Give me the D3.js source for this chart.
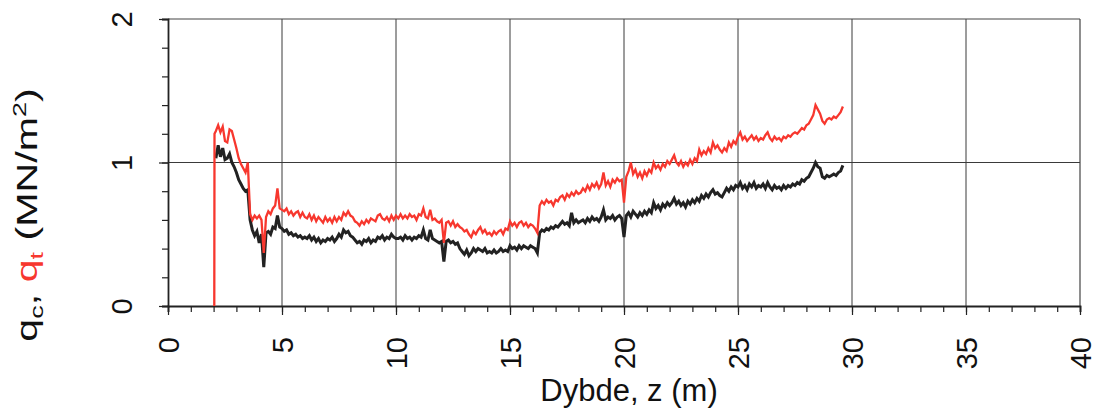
<!DOCTYPE html>
<html>
<head>
<meta charset="utf-8">
<script src="https://cdn.jsdelivr.net/npm/d3@7"></script>
<style>
  body { margin: 0; background: #fff; }
  svg { display: block; font-family: "Liberation Sans", Arial, sans-serif; }
</style>
</head>
<body>
<svg id="chart" width="1098" height="417"></svg>
<script>
// ---------------- data ----------------
const xTicks = [0, 5, 10, 15, 20, 25, 30, 35, 40];
const yTicks = [0, 1, 2];
const xMinorTicks = [0,1,2,3,4,5,6,7,8,9,10,11,12,13,14,15,16,17,18,19,20,21,22,23,24,25,26,27,28,29,30,31,32,33,34,35,36,37,38,39,40];
const yMinorTicks = [0, 0.2, 0.4, 0.6, 0.8, 1, 1.2, 1.4, 1.6, 1.8, 2];

// depth, z (m)
const depth = [2.03, 2.04,
  2.1,2.2,2.3,2.4,2.5,2.6,2.7,2.8,2.9,3.0,
  3.1,3.2,3.3,3.4,3.5,3.6,3.7,3.8,3.9,4.0,
  4.1,4.2,4.3,4.4,4.5,4.6,4.7,4.8,4.9,5.0,
  5.1,5.2,5.3,5.4,5.5,5.6,5.7,5.8,5.9,6.0,
  6.1,6.2,6.3,6.4,6.5,6.6,6.7,6.8,6.9,7.0,
  7.1,7.2,7.3,7.4,7.5,7.6,7.7,7.8,7.9,8.0,
  8.1,8.2,8.3,8.4,8.5,8.6,8.7,8.8,8.9,9.0,
  9.1,9.2,9.3,9.4,9.5,9.6,9.7,9.8,9.9,10.0,
  10.1,10.2,10.3,10.4,10.5,10.6,10.7,10.8,10.9,11.0,
  11.1,11.2,11.3,11.4,11.5,11.6,11.7,11.8,11.9,12.0,
  12.1,12.2,12.3,12.4,12.5,12.6,12.7,12.8,12.9,13.0,
  13.1,13.2,13.3,13.4,13.5,13.6,13.7,13.8,13.9,14.0,
  14.1,14.2,14.3,14.4,14.5,14.6,14.7,14.8,14.9,15.0,
  15.1,15.2,15.3,15.4,15.5,15.6,15.7,15.8,15.9,16.0,
  16.1,16.2,16.3,16.4,16.5,16.6,16.7,16.8,16.9,17.0,
  17.1,17.2,17.3,17.4,17.5,17.6,17.7,17.8,17.9,18.0,
  18.1,18.2,18.3,18.4,18.5,18.6,18.7,18.8,18.9,19.0,
  19.1,19.2,19.3,19.4,19.5,19.6,19.7,19.8,19.9,20.0,
  20.1,20.2,20.3,20.4,20.5,20.6,20.7,20.8,20.9,21.0,
  21.1,21.2,21.3,21.4,21.5,21.6,21.7,21.8,21.9,22.0,
  22.1,22.2,22.3,22.4,22.5,22.6,22.7,22.8,22.9,23.0,
  23.1,23.2,23.3,23.4,23.5,23.6,23.7,23.8,23.9,24.0,
  24.1,24.2,24.3,24.4,24.5,24.6,24.7,24.8,24.9,25.0,
  25.1,25.2,25.3,25.4,25.5,25.6,25.7,25.8,25.9,26.0,
  26.1,26.2,26.3,26.4,26.5,26.6,26.7,26.8,26.9,27.0,
  27.1,27.2,27.3,27.4,27.5,27.6,27.7,27.8,27.9,28.0,
  28.1,28.2,28.3,28.4,28.5,28.6,28.7,28.8,28.9,29.0,
  29.1,29.2,29.3,29.4,29.5,29.6];

// corrected cone resistance q_t (MN/m2) - red
const qt = [0, 1.20,
  1.22,1.26,1.21,1.25,1.15,1.14,1.23,1.22,1.16,1.10,
  1.03,0.99,0.96,0.93,1.00,0.64,0.60,0.63,0.61,0.63,
  0.60,0.37,0.62,0.66,0.64,0.68,0.70,0.82,0.68,0.67,
  0.66,0.68,0.64,0.66,0.63,0.65,0.66,0.62,0.65,0.62,
  0.61,0.64,0.60,0.63,0.59,0.62,0.60,0.58,0.62,0.59,
  0.61,0.58,0.62,0.59,0.62,0.60,0.65,0.63,0.66,0.63,
  0.62,0.59,0.58,0.56,0.59,0.57,0.60,0.58,0.61,0.60,
  0.59,0.63,0.64,0.61,0.60,0.62,0.59,0.63,0.60,0.63,
  0.61,0.64,0.61,0.63,0.61,0.64,0.62,0.63,0.60,0.64,
  0.63,0.68,0.62,0.61,0.67,0.60,0.61,0.59,0.58,0.60,
  0.44,0.58,0.59,0.56,0.59,0.55,0.57,0.55,0.54,0.52,
  0.53,0.50,0.48,0.52,0.50,0.53,0.55,0.51,0.53,0.50,
  0.51,0.49,0.52,0.50,0.52,0.53,0.50,0.54,0.53,0.59,
  0.56,0.58,0.55,0.58,0.59,0.56,0.58,0.55,0.57,0.56,
  0.54,0.51,0.70,0.73,0.71,0.74,0.72,0.73,0.70,0.74,
  0.73,0.76,0.77,0.74,0.78,0.76,0.79,0.77,0.80,0.78,
  0.79,0.82,0.80,0.84,0.81,0.85,0.83,0.86,0.82,0.85,
  0.93,0.84,0.87,0.83,0.88,0.86,0.89,0.87,0.88,0.72,
  0.90,0.94,1.00,0.92,0.95,0.90,0.93,0.89,0.94,0.91,
  0.95,0.93,1.00,0.96,0.98,0.95,0.99,0.97,1.01,0.99,
  1.02,1.05,1.00,0.98,1.01,0.97,1.00,0.98,1.02,0.99,
  1.03,1.01,1.09,1.05,1.08,1.06,1.10,1.07,1.14,1.10,
  1.12,1.09,1.07,1.10,1.08,1.14,1.11,1.15,1.13,1.18,
  1.21,1.16,1.18,1.15,1.17,1.19,1.16,1.18,1.15,1.17,
  1.16,1.19,1.21,1.17,1.15,1.18,1.16,1.17,1.15,1.18,
  1.17,1.19,1.18,1.20,1.21,1.20,1.22,1.24,1.23,1.26,
  1.27,1.30,1.33,1.40,1.37,1.34,1.29,1.27,1.30,1.31,
  1.30,1.32,1.31,1.33,1.35,1.39];

// measured cone resistance q_c (MN/m2) - black
const qc = [null, null,
  1.03,1.12,1.04,1.10,1.02,1.03,1.06,1.00,0.97,0.93,
  0.88,0.85,0.82,0.80,0.81,0.60,0.53,0.49,0.52,0.44,
  0.50,0.27,0.51,0.52,0.50,0.55,0.54,0.63,0.55,0.54,
  0.52,0.53,0.50,0.51,0.49,0.50,0.48,0.49,0.47,0.48,
  0.47,0.49,0.46,0.48,0.45,0.47,0.44,0.46,0.45,0.47,
  0.46,0.48,0.45,0.47,0.50,0.48,0.53,0.51,0.52,0.49,
  0.48,0.46,0.44,0.45,0.43,0.46,0.45,0.47,0.44,0.46,
  0.45,0.48,0.47,0.49,0.46,0.48,0.47,0.50,0.48,0.47,
  0.47,0.48,0.46,0.49,0.47,0.48,0.46,0.48,0.47,0.49,
  0.48,0.53,0.47,0.46,0.53,0.47,0.46,0.45,0.44,0.45,
  0.31,0.45,0.46,0.44,0.45,0.43,0.44,0.40,0.38,0.36,
  0.39,0.35,0.37,0.40,0.38,0.40,0.39,0.38,0.40,0.37,
  0.38,0.37,0.39,0.37,0.38,0.40,0.38,0.39,0.38,0.42,
  0.40,0.41,0.39,0.42,0.40,0.42,0.41,0.40,0.42,0.41,
  0.40,0.37,0.51,0.53,0.52,0.54,0.53,0.55,0.54,0.56,
  0.55,0.57,0.59,0.57,0.58,0.56,0.65,0.58,0.60,0.58,
  0.59,0.60,0.58,0.61,0.59,0.62,0.60,0.61,0.59,0.62,
  0.67,0.60,0.62,0.61,0.63,0.60,0.62,0.63,0.61,0.48,
  0.63,0.65,0.62,0.66,0.64,0.62,0.65,0.63,0.66,0.64,
  0.67,0.65,0.72,0.68,0.70,0.67,0.71,0.69,0.72,0.70,
  0.72,0.75,0.71,0.73,0.70,0.72,0.69,0.73,0.71,0.74,
  0.72,0.75,0.73,0.77,0.75,0.78,0.76,0.79,0.81,0.78,
  0.79,0.77,0.76,0.79,0.82,0.80,0.83,0.81,0.84,0.83,
  0.86,0.82,0.84,0.81,0.85,0.83,0.86,0.82,0.84,0.83,
  0.85,0.82,0.86,0.83,0.81,0.84,0.82,0.83,0.81,0.84,
  0.82,0.84,0.83,0.85,0.84,0.86,0.85,0.88,0.87,0.89,
  0.90,0.93,0.96,1.00,0.97,0.96,0.90,0.89,0.91,0.90,
  0.91,0.92,0.91,0.93,0.94,0.98];

// ---------------- drawing ----------------
const RED = "#f7372e";
const BLACK = "#222222";
const svg = d3.select("#chart");
const mLeft = 168, mRight = 1080, mTop = 19, mBottom = 306;

const x = d3.scaleLinear().domain([0, 40]).range([mLeft, mRight]);
const y = d3.scaleLinear().domain([0, 2]).range([mBottom, mTop]);

// gridlines
svg.append("g").selectAll("line").data(xTicks.filter(d => d > 0 && d < 40)).join("line")
  .attr("x1", d => x(d)).attr("x2", d => x(d)).attr("y1", y(0)).attr("y2", y(2))
  .attr("stroke", "#3a3a3a").attr("stroke-width", 1);
svg.append("g").selectAll("line").data(yTicks.filter(d => d > 0 && d < 2)).join("line")
  .attr("x1", x(0)).attr("x2", x(40)).attr("y1", d => y(d)).attr("y2", d => y(d))
  .attr("stroke", "#3a3a3a").attr("stroke-width", 1);

// frame top/right
svg.append("line").attr("x1", x(0)).attr("x2", x(40)).attr("y1", y(2)).attr("y2", y(2))
  .attr("stroke", "#444").attr("stroke-width", 1.2);
svg.append("line").attr("x1", x(40)).attr("x2", x(40)).attr("y1", y(0)).attr("y2", y(2))
  .attr("stroke", "#444").attr("stroke-width", 1.2);

// minor ticks
const xMinorAxis = d3.axisBottom(x).tickValues(xMinorTicks).tickSize(6).tickFormat("");
const gxm = svg.append("g").attr("transform", `translate(0,${mBottom})`).call(xMinorAxis);
const yMinorAxis = d3.axisLeft(y).tickValues(yMinorTicks).tickSize(6).tickFormat("");
const gym = svg.append("g").attr("transform", `translate(${mLeft},0)`).call(yMinorAxis);
[gxm, gym].forEach(g => {
  g.select(".domain").attr("stroke", "#222").attr("stroke-width", 1.8);
  g.selectAll(".tick line").attr("stroke", "#222").attr("stroke-width", 1.2);
});

// major ticks with labels
const xAxis = d3.axisBottom(x).tickValues(xTicks).tickSize(9).tickFormat(d3.format("d"));
const gx = svg.append("g").attr("transform", `translate(0,${mBottom})`).call(xAxis);
gx.select(".domain").remove();
gx.selectAll(".tick line").attr("stroke", "#222").attr("stroke-width", 1.2);
gx.selectAll(".tick text")
  .attr("transform", "rotate(-90)")
  .attr("x", -31).attr("y", 0).attr("dy", "0.36em")
  .attr("text-anchor", "end")
  .attr("font-size", 29).attr("fill", "#111")
  .attr("font-family", "Liberation Sans, Arial, sans-serif");

const yAxis = d3.axisLeft(y).tickValues(yTicks).tickSize(9).tickFormat(d3.format("d"));
const gy = svg.append("g").attr("transform", `translate(${mLeft},0)`).call(yAxis);
gy.select(".domain").remove();
gy.selectAll(".tick line").attr("stroke", "#222").attr("stroke-width", 1.2);
gy.selectAll(".tick text")
  .attr("transform", "rotate(-90)")
  .attr("x", 0).attr("y", -46).attr("dy", "0.36em")
  .attr("text-anchor", "middle")
  .attr("font-size", 29).attr("fill", "#111")
  .attr("font-family", "Liberation Sans, Arial, sans-serif");

// data lines
const pts = (vals) => depth.map((z, i) => ({ z, q: vals[i] }));
const line = d3.line().defined(d => d.q != null).x(d => x(d.z)).y(d => y(d.q));

svg.append("path").datum(pts(qc)).attr("d", line)
  .attr("fill", "none").attr("stroke", BLACK).attr("stroke-width", 3)
  .attr("stroke-linejoin", "miter");
svg.append("path").datum(pts(qt)).attr("d", line)
  .attr("fill", "none").attr("stroke", RED).attr("stroke-width", 2.3)
  .attr("stroke-linejoin", "miter");

// axis titles
svg.append("text").attr("x", 629).attr("y", 401).attr("text-anchor", "middle")
  .attr("font-size", 31).attr("fill", "#111").text("Dybde, z (m)");

const yt = svg.append("text").attr("transform", "translate(37,215) rotate(-90) scale(1.42,1)")
  .attr("text-anchor", "middle").attr("font-size", 29).attr("fill", "#111");
yt.append("tspan").text("q");
yt.append("tspan").attr("font-size", 19).attr("dy", 6).text("c");
yt.append("tspan").attr("dy", -6).text(", ");
yt.append("tspan").attr("fill", RED).text("q");
yt.append("tspan").attr("fill", RED).attr("font-size", 19).attr("dy", 6).text("t");
yt.append("tspan").attr("dy", -6).text(" (MN/m");
yt.append("tspan").attr("font-size", 19).attr("dy", -11).text("2");
yt.append("tspan").attr("dy", 11).text(")");
</script>
</body>
</html>
